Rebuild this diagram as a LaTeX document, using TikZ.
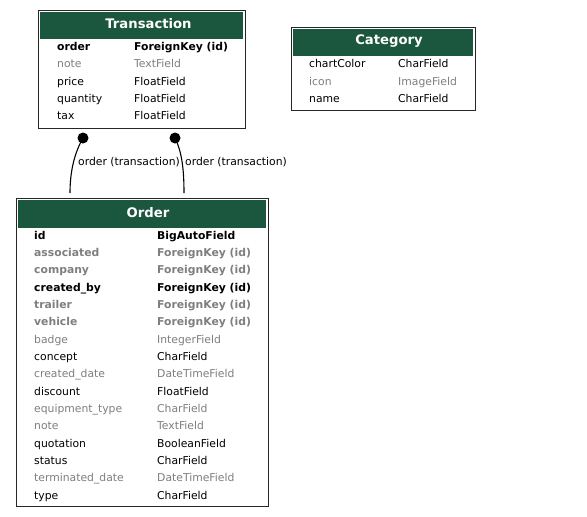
\documentclass[tikz,border=0pt]{standalone}
\usepackage{fontspec}
\setmainfont{DejaVu Sans}
\definecolor{hdr}{HTML}{1B563F}
\definecolor{mute}{HTML}{7F7F7F}
\begin{document}
\begin{tikzpicture}[x=1pt,y=-1pt,
  tbl/.style={draw=black!85, line width=1.1pt, fill=white, anchor=north west, inner sep=0},
  hdrbox/.style={fill=hdr, anchor=north west, inner sep=0},
  title/.style={text=white, font=\fontsize{13.2}{15}\selectfont\bfseries, inner sep=0},
  fn/.style={anchor=base west, inner sep=0, font=\fontsize{10.8}{13}\selectfont},
  fm/.style={fn, text=mute},
  fb/.style={fn, font=\fontsize{10.8}{13}\selectfont\bfseries},
  fbm/.style={fb, text=mute},
  rel/.style={line width=1.1pt, black},
  dotc/.style={circle, fill=black, inner sep=0, minimum size=11pt},
  lbl/.style={anchor=west, inner sep=0, font=\fontsize{10.8}{13}\selectfont}
]
\useasboundingbox (0,0) rectangle (587,517);
% Transaction
\node[tbl, minimum width=207pt, minimum height=118pt] (transaction) at (38,10) {};
\node[hdrbox, minimum width=203pt, minimum height=27pt] (transactionhead) at (40,12) {};
\node[title] (transactiontitle) at (148.5,24) {Transaction};
\node[fb] (t1n) at (57,50) {order};      \node[fb] (t1t) at (134,50) {ForeignKey (id)};
\node[fm] (t2n) at (57,67) {note};       \node[fm] (t2t) at (134,67) {TextField};
\node[fn] (t3n) at (57,85) {price};      \node[fn] (t3t) at (134,85) {FloatField};
\node[fn] (t4n) at (57,102) {quantity};  \node[fn] (t4t) at (134,102) {FloatField};
\node[fn] (t5n) at (57,119) {tax};       \node[fn] (t5t) at (134,119) {FloatField};
% Category
\node[tbl, minimum width=184pt, minimum height=83pt] (category) at (291,27) {};
\node[hdrbox, minimum width=180pt, minimum height=27pt] (categoryhead) at (293,29) {};
\node[title] (categorytitle) at (389,41) {Category};
\node[fn] (c1n) at (309,67) {chartColor}; \node[fn] (c1t) at (398,67) {CharField};
\node[fm] (c2n) at (309,85) {icon};       \node[fm] (c2t) at (398,85) {ImageField};
\node[fn] (c3n) at (309,102) {name};      \node[fn] (c3t) at (398,102) {CharField};
% Order
\node[tbl, minimum width=252pt, minimum height=308pt] (order) at (16,198) {};
\node[hdrbox, minimum width=248pt, minimum height=28pt] (orderhead) at (18,200) {};
\node[title] (ordertitle) at (148,213) {Order};
\node[fb]  (o1n)  at (34,239)   {id};              \node[fb]  (o1t)  at (157,239)   {BigAutoField};
\node[fbm] (o2n)  at (34,256.3) {associated};      \node[fbm] (o2t)  at (157,256.3) {ForeignKey (id)};
\node[fbm] (o3n)  at (34,273.7) {company};         \node[fbm] (o3t)  at (157,273.7) {ForeignKey (id)};
\node[fb]  (o4n)  at (34,291)   {created\_by};     \node[fb]  (o4t)  at (157,291)   {ForeignKey (id)};
\node[fbm] (o5n)  at (34,308.3) {trailer};         \node[fbm] (o5t)  at (157,308.3) {ForeignKey (id)};
\node[fbm] (o6n)  at (34,325.7) {vehicle};         \node[fbm] (o6t)  at (157,325.7) {ForeignKey (id)};
\node[fm]  (o7n)  at (34,343)   {badge};           \node[fm]  (o7t)  at (157,343)   {IntegerField};
\node[fn]  (o8n)  at (34,360.3) {concept};         \node[fn]  (o8t)  at (157,360.3) {CharField};
\node[fm]  (o9n)  at (34,377.7) {created\_date};   \node[fm]  (o9t)  at (157,377.7) {DateTimeField};
\node[fn]  (o10n) at (34,395)   {discount};        \node[fn]  (o10t) at (157,395)   {FloatField};
\node[fm]  (o11n) at (34,412.3) {equipment\_type}; \node[fm]  (o11t) at (157,412.3) {CharField};
\node[fm]  (o12n) at (34,429.7) {note};            \node[fm]  (o12t) at (157,429.7) {TextField};
\node[fn]  (o13n) at (34,447)   {quotation};       \node[fn]  (o13t) at (157,447)   {BooleanField};
\node[fn]  (o14n) at (34,464.3) {status};          \node[fn]  (o14t) at (157,464.3) {CharField};
\node[fm]  (o15n) at (34,481.7) {terminated\_date};\node[fm]  (o15t) at (157,481.7) {DateTimeField};
\node[fn]  (o16n) at (34,499)   {type};            \node[fn]  (o16t) at (157,499)   {CharField};
% relations
\node[dotc] (d1) at (83,138) {};
\node[dotc] (d2) at (175,138) {};
\coordinate (e1) at (70,193);
\coordinate (e2) at (184,193);
\draw[rel] (d1.center) .. controls (75,152) and (70,170) .. (e1);
\draw[rel] (d2.center) .. controls (182,152) and (184,170) .. (e2);
\node[lbl] (l1) at (78,162) {order (transaction)};
\node[lbl] (l2) at (185,162) {order (transaction)};
\end{tikzpicture}
\end{document}
